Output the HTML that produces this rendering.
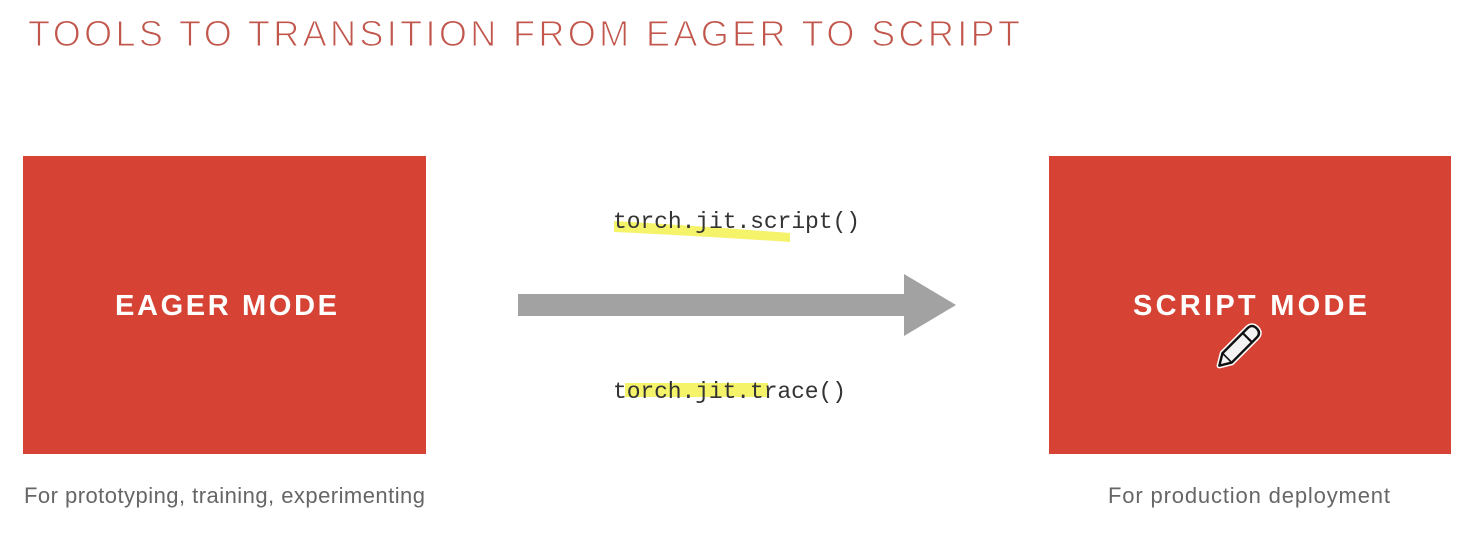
<!DOCTYPE html>
<html><head><meta charset="utf-8"><style>
html,body{margin:0;padding:0;background:#fff;width:1470px;height:535px;overflow:hidden}
svg{display:block}
</style></head><body>
<svg width="1470" height="535" viewBox="0 0 1470 535" xmlns="http://www.w3.org/2000/svg">
<rect width="1470" height="535" fill="#fff"/>
<text x="28" y="46" font-family="Liberation Sans, sans-serif" font-size="36" fill="#c1574c" stroke="#fff" stroke-width="1.1" paint-order="normal" textLength="992" lengthAdjust="spacing">TOOLS TO TRANSITION FROM EAGER TO SCRIPT</text>
<rect x="23" y="156" width="403" height="298" fill="#d64233"/>
<rect x="1049" y="156" width="402" height="298" fill="#d64233"/>
<text x="115" y="315" font-family="Liberation Sans, sans-serif" font-weight="bold" font-size="29" fill="#fff" textLength="222" lengthAdjust="spacing">EAGER MODE</text>
<text x="1133" y="315" font-family="Liberation Sans, sans-serif" font-weight="bold" font-size="29" fill="#fff" textLength="234" lengthAdjust="spacing">SCRIPT MODE</text>
<g transform="translate(1238,347) rotate(-45) scale(1.1)">
<path d="M-24,0 L-14,-6 L18,-6 Q24,-6 24,0 Q24,6 18,6 L-14,6 Z" fill="#fff" stroke="#fff" stroke-width="5" stroke-linejoin="round"/>
<path d="M-24,0 L-14,-6 L18,-6 Q24,-6 24,0 Q24,6 18,6 L-14,6 Z" fill="#f4f4f4" stroke="#111" stroke-width="2.2" stroke-linejoin="round"/>
<line x1="12" y1="-6" x2="12" y2="6" stroke="#111" stroke-width="2"/>
<line x1="-14" y1="-6" x2="-14" y2="6" stroke="#111" stroke-width="1.5"/>
</g>
<path d="M614,221 Q700,226 790,233 L790,242 Q700,236 614,232 Z" fill="#f4f25a" opacity="0.9"/>
<rect x="625" y="383" width="143" height="14" fill="#f4f25a" opacity="0.9"/>
<text x="613" y="228" font-family="Liberation Mono, monospace" font-size="23" fill="#333" textLength="247" lengthAdjust="spacing">torch.jit.script()</text>
<text x="613" y="398" font-family="Liberation Mono, monospace" font-size="23" fill="#333" textLength="233" lengthAdjust="spacing">torch.jit.trace()</text>
<rect x="518" y="294" width="390" height="22" fill="#a2a2a2"/>
<polygon points="904,274 956,305 904,336" fill="#a2a2a2"/>
<text x="24" y="503" font-family="Liberation Sans, sans-serif" font-size="22" fill="#666" textLength="401" lengthAdjust="spacing">For prototyping, training, experimenting</text>
<text x="1108" y="503" font-family="Liberation Sans, sans-serif" font-size="22" fill="#666" textLength="282" lengthAdjust="spacing">For production deployment</text>
</svg>
</body></html>
